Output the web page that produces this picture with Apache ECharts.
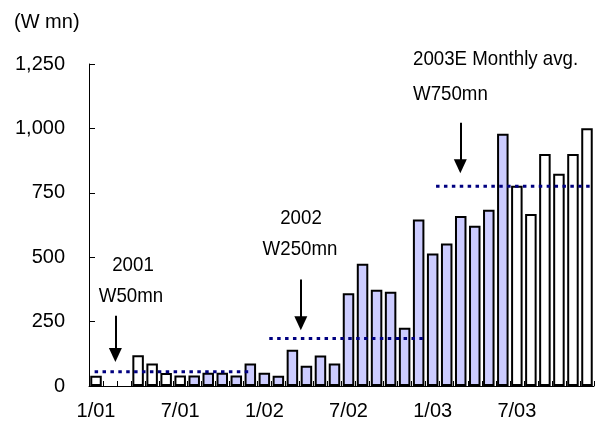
<!DOCTYPE html>
<html><head><meta charset="utf-8">
<script src="https://cdn.jsdelivr.net/npm/echarts@6/dist/echarts.min.js"></script>
<style>html,body{margin:0;padding:0;background:#fff}#c{width:598px;height:429px}</style>
</head><body><div id="c"></div>
<script>
const months = ['1/01','2/01','3/01','4/01','5/01','6/01','7/01','8/01','9/01','10/01','11/01','12/01',
  '1/02','2/02','3/02','4/02','5/02','6/02','7/02','8/02','9/02','10/02','11/02','12/02',
  '1/03','2/03','3/03','4/03','5/03','6/03','7/03','8/03','9/03','10/03','11/03','12/03'];
const monthlyValues = [40,null,null,119,87,50,41,41,51,51,41,87,
  51,40,141,79,118,87,360,475,374,366,226,646,
  514,553,660,622,684,979,777,668,901,824,901,1001];
const xTickLabels = ['1/01','7/01','1/02','7/02','1/03','7/03'];
const yTicks = [0,250,500,750,1000,1250];
const avgNames = ['2001','2002','2003E Monthly avg.'];
const avgLabels = ['W50mn','W250mn','W750mn'];
const avgValues = [55,184,775];
const avgStart = [-0.1,12.35,24.24];
const avgEnd = [11.05,23.42,35.5];
const shadedFirst = 7, shadedLast = 29;

const FONT = 'Liberation Sans';

const chart = echarts.init(document.getElementById('c'), null, {renderer:'canvas'});

const avgSeries = avgValues.map((v,i)=>({
  type:'line', xAxisIndex:1, yAxisIndex:0, symbol:'none', silent:true, z:5,
  data:[[avgStart[i], v],[avgEnd[i], v]],
  lineStyle:{color:'#000080', width:3, type:[3.5,4.4]}
}));

// arrows (annotation geometry in data coordinates)
const arrows = [
  {x:1.38, top:273, head:120},
  {x:14.6, top:413, head:244},
  {x:25.97, top:1022, head:853}
];
avgSeries[0].markLine = {
  silent:true, symbol:['none','triangle'], symbolSize:[13,14], animation:false,
  label:{show:false},
  lineStyle:{color:'#000', width:2, type:'solid'},
  data: arrows.map(a=>[{coord:[a.x,a.top]},{coord:[a.x,a.head]}])
};

function note(text, x, y, align){
  return {type:'text', x:x, y:y, scaleX:0.89, scaleY:1,
    style:{text:text, font:'21px '+FONT, fill:'#000', align:align, verticalAlign:'middle'}};
}

const option = {
  animation:false,
  backgroundColor:'#fff',
  textStyle:{fontFamily:FONT},
  grid:{left:89, right:4, top:64, bottom:43, containLabel:false},
  xAxis:[{
    type:'category', data:months, boundaryGap:true,
    axisLine:{lineStyle:{color:'#000', width:1}},
    axisTick:{show:true, inside:true, length:5, interval:0, lineStyle:{color:'#000'}},
    axisLabel:{interval:5, margin:15, color:'#000', fontSize:20, fontFamily:FONT,
      formatter:v=> xTickLabels.includes(v)? v : ''},
    splitLine:{show:false}
  },{
    type:'value', min:-0.5, max:35.5, show:false
  }],
  yAxis:{
    type:'value', min:yTicks[0], max:yTicks[yTicks.length-1], interval:250,
    axisLine:{show:true, onZero:false, lineStyle:{color:'#000', width:1}},
    axisTick:{show:true, inside:true, length:6, lineStyle:{color:'#000'}},
    axisLabel:{margin:24, color:'#000', fontSize:20, fontFamily:FONT,
      formatter:v=> v.toLocaleString('en-US')},
    splitLine:{show:false}
  },
  series:[{
    type:'bar', data:monthlyValues, barWidth:'82%', z:3,
    itemStyle:{borderColor:'#000', borderWidth:2,
      color:p=> (p.dataIndex>=shadedFirst && p.dataIndex<=shadedLast) ? '#ccccff' : '#ffffff'}
  }].concat(avgSeries),
  graphic:[
    {type:'text', x:14, y:22, style:{text:'(W mn)', font:'20px '+FONT, fill:'#000', verticalAlign:'middle'}},
    note(avgNames[0], 133, 265, 'center'),
    note(avgLabels[0], 131, 296, 'center'),
    note(avgNames[1], 301, 218, 'center'),
    note(avgLabels[1], 300, 249, 'center'),
    note(avgNames[2], 413, 59, 'left'),
    note(avgLabels[2], 413, 94, 'left')
  ]
};
chart.setOption(option);
</script>
</body></html>
